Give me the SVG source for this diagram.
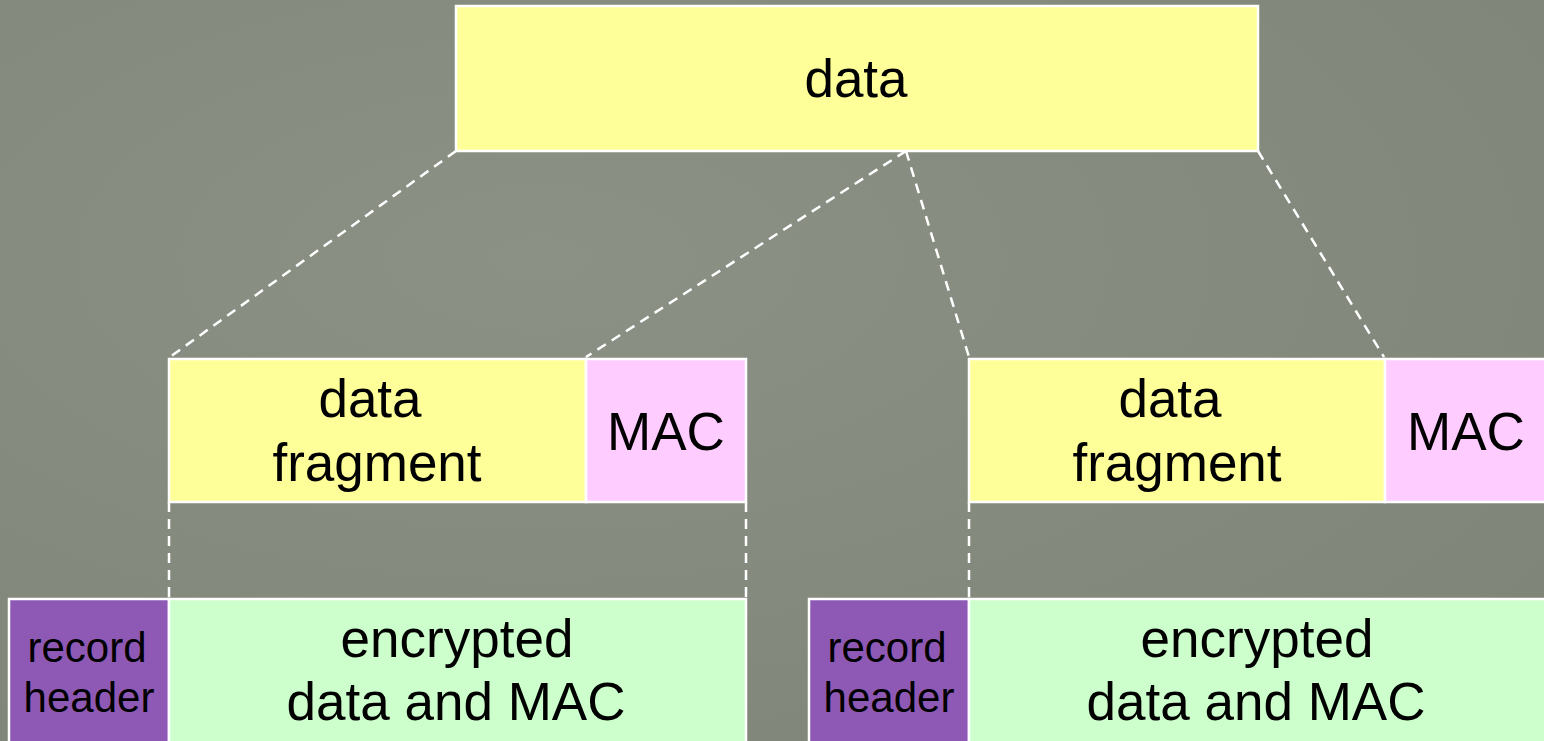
<svg xmlns="http://www.w3.org/2000/svg" width="1544" height="741" viewBox="0 0 1544 741">
<defs>
<radialGradient id="bg" cx="0.35" cy="0.35" r="0.8">
<stop offset="0" stop-color="#8c9185"/>
<stop offset="1" stop-color="#80857a"/>
</radialGradient>
<style>
.box{stroke:#ffffff;stroke-width:2.5}
.y{fill:#ffff99}
.p{fill:#ffccff}
.g{fill:#ccffcc}
.v{fill:#8e59b5}
.t{font-family:"Liberation Sans",Arial,sans-serif;fill:#000;text-anchor:middle}
.big{font-size:53px}
.small{font-size:42px}
.dash{stroke:#ffffff;stroke-width:2.5;stroke-dasharray:10,7;fill:none}
</style>
</defs>
<rect width="1544" height="741" fill="url(#bg)"/>
<g id="connectors">
<line class="dash" x1="456" y1="151" x2="170" y2="357"/>
<line class="dash" x1="906" y1="151" x2="586" y2="357"/>
<line class="dash" x1="906" y1="151" x2="969" y2="357"/>
<line class="dash" x1="1258" y1="151" x2="1384" y2="357"/>
<line class="dash" x1="169" y1="502" x2="169" y2="599"/>
<line class="dash" x1="746" y1="502" x2="746" y2="599"/>
<line class="dash" x1="969" y1="502" x2="969" y2="599"/>
</g>
<g id="data">
<rect class="box y" x="456" y="6" width="802" height="145"/>
<text class="t big" x="856" y="97">data</text>
</g>
<g id="frag1">
<rect class="box y" x="169" y="359" width="417" height="143"/>
<text class="t big" x="370" y="417">data</text>
<text class="t big" x="377" y="481">fragment</text>
</g>
<g id="mac1">
<rect class="box p" x="586" y="359" width="160" height="143"/>
<text class="t big" x="666" y="450">MAC</text>
</g>
<g id="frag2">
<rect class="box y" x="969" y="359" width="416" height="143"/>
<text class="t big" x="1170" y="417">data</text>
<text class="t big" x="1177" y="481">fragment</text>
</g>
<g id="mac2">
<rect class="box p" x="1385" y="359" width="162" height="143"/>
<text class="t big" x="1466" y="450">MAC</text>
</g>
<g id="hdr1">
<rect class="box v" x="9" y="599" width="160" height="150"/>
<text class="t small" x="87" y="662">record</text>
<text class="t small" x="89" y="712">header</text>
</g>
<g id="enc1">
<rect class="box g" x="169" y="599" width="577" height="150"/>
<text class="t big" x="457" y="657">encrypted</text>
<text class="t big" x="456" y="720">data and MAC</text>
</g>
<g id="hdr2">
<rect class="box v" x="809" y="599" width="160" height="150"/>
<text class="t small" x="887" y="662">record</text>
<text class="t small" x="889" y="712">header</text>
</g>
<g id="enc2">
<rect class="box g" x="969" y="599" width="580" height="150"/>
<text class="t big" x="1257" y="657">encrypted</text>
<text class="t big" x="1256" y="720">data and MAC</text>
</g>
</svg>
